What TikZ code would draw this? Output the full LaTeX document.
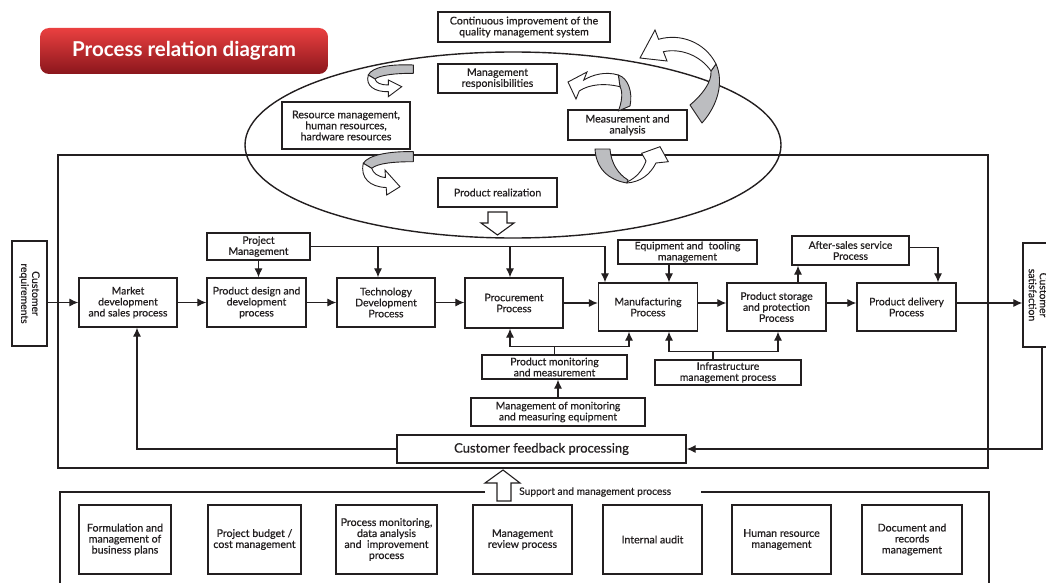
\documentclass[tikz,border=0pt]{standalone}
\usepackage{fontspec}
\setmainfont{Lato}
\newfontfamily\medfont{Lato}[FakeBold=0.6]
\usetikzlibrary{arrows.meta}
\definecolor{ink}{RGB}{35,31,32}
\definecolor{ribbon}{RGB}{188,189,192}
\definecolor{redtop}{RGB}{234,64,64}
\definecolor{redbot}{RGB}{138,22,28}
\begin{document}
\begin{tikzpicture}[x=1pt,y=-1pt,
  box/.style={draw=ink,line width=1.3pt,fill=white,inner sep=1pt,align=center,text=ink,font=\medfont\fontsize{10.4}{11}\selectfont},
  ebox/.style={box,font=\medfont\fontsize{10.6}{11}\selectfont},
  sbox/.style={box,font=\medfont\fontsize{10.6}{11}\selectfont},
  frame/.style={draw=ink,line width=1.4pt},
  ln/.style={draw=ink,line width=1.1pt},
  arr/.style={ln,-{Latex[length=9pt,width=8pt]}},
  rib/.style={fill=ribbon,draw=ink,line width=0.9pt,line join=round},
  ribw/.style={fill=white,draw=ink,line width=0.9pt,line join=miter},
  block/.style={fill=white,draw=ink,line width=1.1pt,line join=miter}]
\useasboundingbox (0,0) rectangle (1046,583);

% frames
\draw[frame] (58,155) rectangle (988,468);
\draw[frame] (513,145) ellipse [x radius=268pt,y radius=93pt];
\draw[frame] (485,492) -- (60,492) -- (60,590);
\draw[frame] (701,492) -- (989,492) -- (989,590);

% title
\node[rounded corners=9pt,top color=redtop,bottom color=redbot,minimum width=288,minimum height=46,text=white,font=\fontsize{20.5}{24}\selectfont\bfseries] (title) at (184,51) {Process relation diagram};

% ellipse boxes
\node[ebox,minimum width=172,minimum height=30] (contimp) at (524,27) {Continuous improvement of the\\quality management system};
\node[ebox,minimum width=119,minimum height=29] (mgmtresp) at (497.5,78.5) {Management\\responisibilities};
\node[ebox,minimum width=128,minimum height=47] (resmgmt) at (346,125.5) {Resource management,\\human resources,\\hardware resources};
\node[ebox,minimum width=119,minimum height=30] (measure) at (627.5,125) {Measurement and\\analysis};
\node[ebox,minimum width=119,minimum height=29] (prodreal) at (497.5,192.5) {Product realization};

% main row
\node[box,rotate=-90,minimum width=105,minimum height=35] (custreq) at (29.5,293.5) {Customer\\requirements};
\node[box,minimum width=98,minimum height=49] (market) at (128,302.5) {Market\\development\\and sales process};
\node[box,minimum width=99,minimum height=49] (design) at (256.5,302.5) {Product design and\\development\\process};
\node[box,minimum width=98,minimum height=49] (tech) at (386,302.5) {Technology\\Development\\Process};
\node[box,minimum width=98,minimum height=50] (procure) at (514,303) {Procurement\\Process};
\node[box,minimum width=99,minimum height=48] (manuf) at (648,307) {Manufacturing\\Process};
\node[box,minimum width=99,minimum height=48] (storage) at (776.5,307) {Product storage\\and protection\\Process};
\node[box,minimum width=99,minimum height=48] (delivery) at (906.5,307) {Product delivery\\Process};
\node[box,rotate=-90,minimum width=104,minimum height=30] (satisf) at (1038,295) {Customer\\satisfaction};

\node[box,minimum width=103,minimum height=27] (projmgmt) at (258.5,246.5) {Project\\Management};
\node[box,minimum width=139,minimum height=24] (equip) at (687.5,252) {Equipment and~ tooling\\management};
\node[box,minimum width=117,minimum height=29] (aftersales) at (850.5,250.5) {After-sales service\\Process};
\node[box,minimum width=145,minimum height=24] (prodmon) at (554.5,367) {Product monitoring\\and measurement};
\node[box,minimum width=174,minimum height=28] (mgmtmon) at (558,412) {Management of monitoring\\and measuring equipment};
\node[box,minimum width=146,minimum height=25] (infra) at (728,372.5) {Infrastructure\\management process};
\node[box,font=\medfont\fontsize{13}{15}\selectfont,minimum width=289,minimum height=28] (feedback) at (541.5,449) {Customer feedback processing};

% support boxes
\node[sbox,minimum width=92,minimum height=69] (b1) at (125,539.5) {Formulation and\\management of\\business plans};
\node[sbox,minimum width=93,minimum height=69] (b2) at (254.5,539.5) {Project budget /\\cost management};
\node[sbox,minimum width=101,minimum height=69] (b3) at (386.5,539.5) {Process monitoring,\\data analysis\\and~ improvement\\process};
\node[sbox,minimum width=99,minimum height=69] (b4) at (522.5,539.5) {Management\\review process};
\node[sbox,minimum width=99,minimum height=69] (b5) at (652.5,539.5) {Internal audit};
\node[sbox,minimum width=99,minimum height=69] (b6) at (781.5,539.5) {Human resource\\management};
\node[sbox,minimum width=100,minimum height=69] (b7) at (912,539.5) {Document and\\records\\management};
\node[font=\medfont\fontsize{10.2}{12}\selectfont,text=ink,anchor=west,inner sep=1pt] (supp) at (518,492) {Support and management process};

% main flow
\draw[arr] (custreq.north |- market.west) -- (market.west);
\draw[arr] (market.east) -- (design.west);
\draw[arr] (design.east) -- (tech.west);
\draw[arr] (tech.east) -- (procure.west |- tech.east);
\draw[arr] (procure.east) -- (procure.east -| manuf.west);
\draw[arr] ([yshift=4pt]manuf.east) -- ([yshift=4pt]storage.west);
\draw[arr] ([yshift=4pt]storage.east) -- ([yshift=4pt]delivery.west);
\draw[arr] ([yshift=4pt]delivery.east) -- ([yshift=4pt]delivery.east -| satisf.south);

% project management
\draw[arr] (projmgmt.south) -- (projmgmt.south |- design.north);
\draw[arr] (projmgmt.east) -| ([xshift=-43pt]manuf.north);
\draw[arr] ([xshift=-8pt]tech.north |- projmgmt.east) -- ([xshift=-8pt]tech.north);
\draw[arr] ([xshift=-4pt]procure.north |- projmgmt.east) -- ([xshift=-4pt]procure.north);

% upper helpers
\draw[arr] ([xshift=21pt]manuf.north |- equip.south) -- ([xshift=21pt]manuf.north);
\draw[arr] ([xshift=21.5pt]storage.north) -- ([xshift=21.5pt]storage.north |- aftersales.south);
\draw[arr] ([yshift=3pt]aftersales.east) -| ([xshift=31.5pt]delivery.north);

% lower helpers
\coordinate (pmj) at ([yshift=8pt]prodmon.north);
\draw[arr] (prodmon.north) -- (pmj) -| ([xshift=-4pt]procure.south);
\draw[arr] (pmj) -| ([xshift=-19pt]manuf.south);
\draw[arr] (mgmtmon.north) -- (mgmtmon.north |- prodmon.south);
\coordinate (ij) at ([xshift=-15pt,yshift=8pt]infra.north);
\draw[arr] ([xshift=-15pt]infra.north) -- (ij) -| ([xshift=21pt]manuf.south);
\draw[arr] (ij) -| ([xshift=1.5pt]storage.south);

% feedback
\draw[arr] ([xshift=4pt]satisf.east) |- (feedback.east);
\draw[arr] (feedback.west) -| ([xshift=9pt]market.south);

% block arrows
\draw[block] (488,212) -- (507,212) -- (507,223) -- (514,223) -- (497.5,235) -- (481,223) -- (488,223) -- cycle;
\draw[block] (497,501) -- (511,501) -- (511,483) -- (520,483) -- (503,470) -- (485,483) -- (497,483) -- cycle;

% ribbon arrow A (upper left)
\draw[rib] (413.3,65) .. controls (390,64) and (372,67) .. (368.3,75) -- (375,79) .. controls (380,75) and (395,73.3) .. (413.3,73.3) -- cycle;
\draw[ribw] (368.3,75) .. controls (365,86) and (375,92) .. (388.3,91.7) -- (388.3,96.7) -- (401.7,86.7) -- (388.3,80) -- (388.3,85) .. controls (381,85) and (376,83) .. (375,79) -- cycle;
% ribbon arrow B (lower left)
\draw[rib] (413.3,151.7) .. controls (390,151) and (368,155) .. (363.3,163.3) -- (371.7,168.3) .. controls (378,163) and (395,161.7) .. (413.3,161.7) -- cycle;
\draw[ribw] (363.3,163.3) .. controls (360,178) and (370,187) .. (386.2,187.5) -- (386.7,195) -- (400,186.7) -- (385,170) -- (385.5,177.5) .. controls (378,177) and (373,173) .. (371.7,168.3) -- cycle;
% ribbon arrow C (above measurement)
\draw[rib] (618.3,75) .. controls (628,78) and (633,92) .. (630,106) -- (618.3,111) .. controls (622,102) and (623,92) .. (620,86.7) -- cycle;
\draw[ribw] (618.3,75) .. controls (605,71) and (592,75) .. (583.7,80.1) -- (587,72) -- (568,82) -- (576,99) -- (579.3,90.9) .. controls (590,84) and (605,83) .. (620,86.7) -- cycle;
% ribbon arrow D (below measurement)
\draw[rib] (595,149) -- (610,149) .. controls (611,163) and (618,174) .. (628,180) -- (627,183) .. controls (608,180) and (596,168) .. (595,149) -- cycle;
\draw[ribw] (627,182) .. controls (636,178) and (643,170) .. (646,161) -- (641.7,153.3) -- (660,146.7) -- (668.3,161.7) -- (656,163) .. controls (650,175) and (640,182) .. (627,183) -- cycle;
% ribbon arrow E (big right)
\draw[rib] (716,64) .. controls (724,82) and (718,105) .. (702,123) -- (690,105) .. controls (702,95) and (712,82) .. (711,71) -- cycle;
\draw[ribw] (663.4,51.7) .. controls (680,48) and (700,55) .. (711,71) -- (716,64) .. controls (705,42) and (680,33) .. (658.6,39.3) -- (655,30) -- (640,58) -- (667,61) -- cycle;
\end{tikzpicture}
\end{document}
